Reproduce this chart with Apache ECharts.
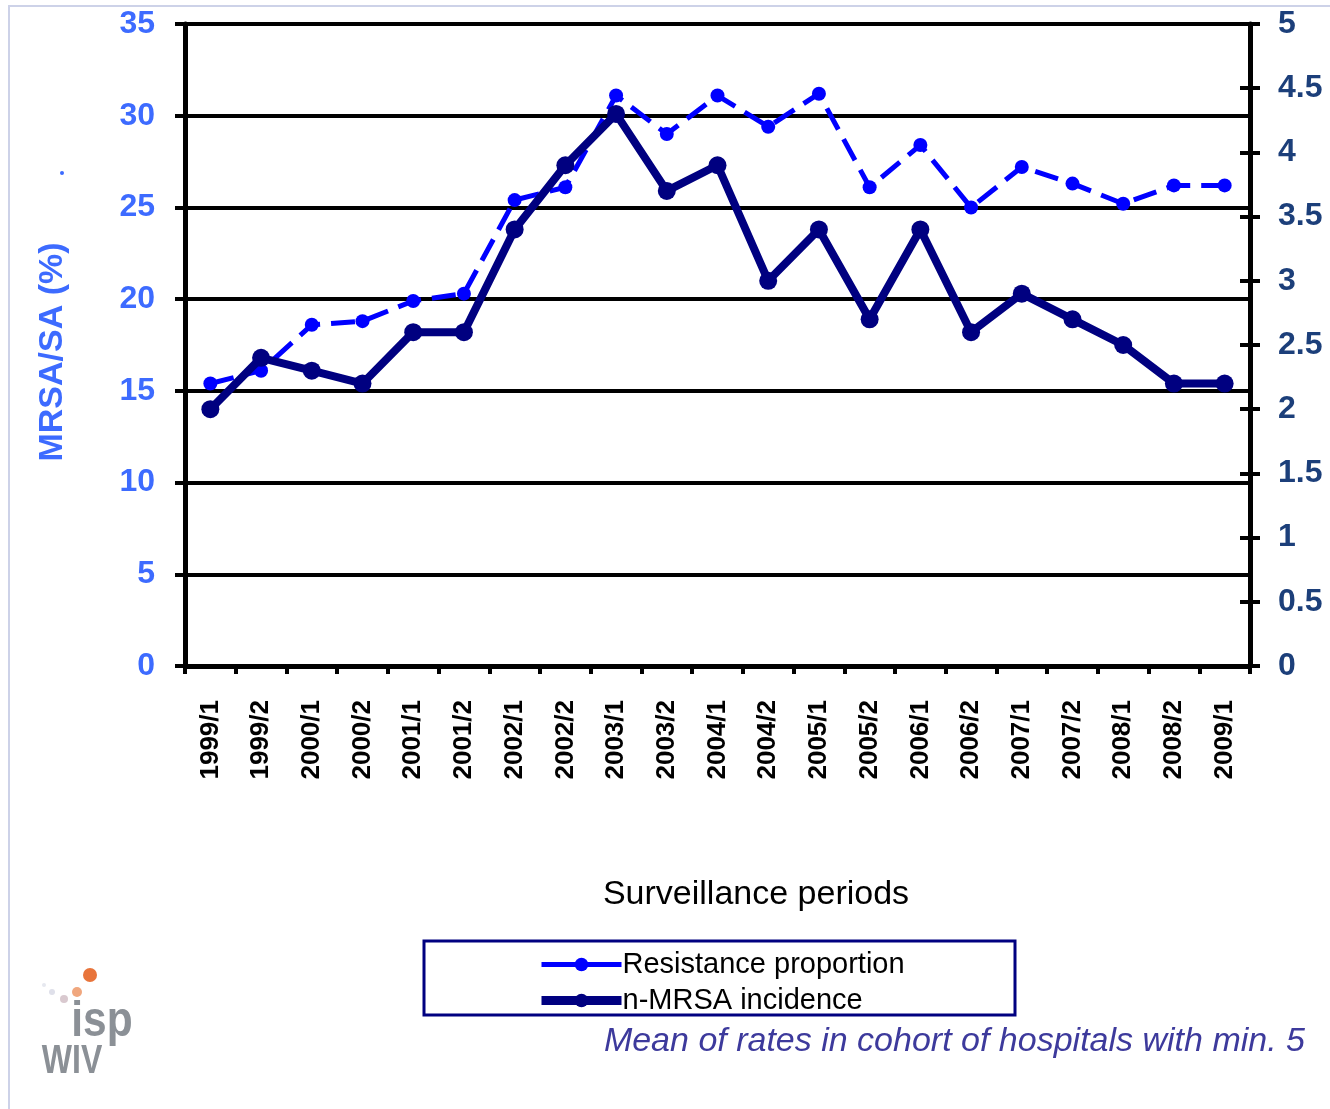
<!DOCTYPE html>
<html>
<head>
<meta charset="utf-8">
<title>MRSA</title>
<script src="https://cdn.jsdelivr.net/npm/echarts@6/dist/echarts.min.js"></script>
<style>
  html, body { margin: 0; padding: 0; background: #fff; }
  #chart { width: 1330px; height: 1109px; }
</style>
</head>
<body>
<div id="chart"></div>
<script>
const periods = [
  "1999/1", "1999/2", "2000/1", "2000/2", "2001/1", "2001/2", "2002/1",
  "2002/2", "2003/1", "2003/2", "2004/1", "2004/2", "2005/1", "2005/2",
  "2006/1", "2006/2", "2007/1", "2007/2", "2008/1", "2008/2", "2009/1",
];
// MRSA/SA (%) - left axis
const resistance = [
  15.4, 16.1, 18.6, 18.8, 19.9, 20.3, 25.4, 26.1, 31.1, 29.0, 31.1,
  29.4, 31.2, 26.1, 28.4, 25.0, 27.2, 26.3, 25.2, 26.2, 26.2,
];
// n-MRSA incidence - right axis
const incidence = [
  2.0, 2.4, 2.3, 2.2, 2.6, 2.6, 3.4, 3.9, 4.3, 3.7, 3.9,
  3.0, 3.4, 2.7, 3.4, 2.6, 2.9, 2.7, 2.5, 2.2, 2.2,
];
const seriesNames = ["Resistance proportion", "n-MRSA incidence"];

const FONT = "'Liberation Sans', Arial, sans-serif";
const chart = echarts.init(document.getElementById("chart"));

const option = {
  animation: false,
  backgroundColor: "#fff",
  textStyle: { fontFamily: FONT },
  grid: { left: 185, right: 80, top: 24, bottom: 443, containLabel: false },
  legend: {
    data: [
      { name: seriesNames[0], lineStyle: { width: 5, type: "solid" } },
      { name: seriesNames[1], lineStyle: { width: 9 } },
    ],
    orient: "vertical",
    left: 537,
    top: 950,
    padding: 0,
    itemGap: 7,
    itemWidth: 80,
    itemHeight: 17,
    textStyle: { fontSize: 29, color: "#000", fontFamily: FONT, padding: [0, 0, 0, -4] },
  },
  xAxis: {
    type: "category",
    data: periods,
    boundaryGap: true,
    axisLine: { lineStyle: { color: "#000", width: 5 } },
    axisTick: { show: true, interval: 0, length: 8, lineStyle: { color: "#000", width: 4 } },
    axisLabel: {
      interval: 0,
      rotate: 90,
      margin: 34,
      fontSize: 26,
      fontWeight: "bold",
      color: "#000",
      fontFamily: FONT,
    },
    splitLine: { show: false },
  },
  yAxis: [
    {
      type: "value",
      position: "left",
      min: 0,
      max: 35,
      interval: 5,
      axisLine: { show: true, lineStyle: { color: "#000", width: 5 } },
      axisTick: { show: true, length: 10, lineStyle: { color: "#000", width: 4 } },
      axisLabel: { fontSize: 32, fontWeight: "bold", color: "#3d6bff", margin: 30, fontFamily: FONT },
      splitLine: { show: true, lineStyle: { color: "#000", width: 4 } },
    },
    {
      type: "value",
      position: "right",
      min: 0,
      max: 5,
      interval: 0.5,
      axisLine: { show: true, lineStyle: { color: "#000", width: 5 } },
      axisTick: { show: true, length: 10, lineStyle: { color: "#000", width: 4 } },
      axisLabel: { fontSize: 32, fontWeight: "bold", color: "#1c3f7a", margin: 28, fontFamily: FONT },
      splitLine: { show: false },
    },
    {
      // inner half of the crossing ticks on the right axis
      type: "value",
      position: "right",
      min: 0,
      max: 5,
      interval: 0.5,
      axisLine: { show: false },
      axisTick: { show: true, inside: true, length: 10, lineStyle: { color: "#000", width: 4 } },
      axisLabel: { show: false },
      splitLine: { show: false },
    },
  ],
  series: [
    {
      name: seriesNames[0],
      type: "line",
      yAxisIndex: 0,
      data: resistance,
      symbol: "circle",
      symbolSize: 14,
      z: 3,
      lineStyle: { color: "#0000ff", width: 5, type: [24, 11] },
      itemStyle: { color: "#0000ff" },
    },
    {
      name: seriesNames[1],
      type: "line",
      yAxisIndex: 1,
      data: incidence,
      symbol: "circle",
      symbolSize: 18,
      z: 4,
      lineStyle: { color: "#000080", width: 8 },
      itemStyle: { color: "#000080" },
    },
  ],
  graphic: [
    {
      type: "rect",
      shape: { x: 9, y: 6, width: 1340, height: 1120 },
      style: { fill: null, stroke: "#cdd2e8", lineWidth: 2 },
      silent: true,
    },
    {
      type: "rect",
      shape: { x: 424, y: 941, width: 591, height: 74 },
      style: { fill: null, stroke: "#000080", lineWidth: 3 },
      silent: true,
    },
    {
      type: "circle",
      shape: { cx: 62, cy: 173, r: 2 },
      style: { fill: "#3d6bff" },
      silent: true,
    },
    {
      // left axis title
      type: "text",
      x: 53,
      y: 352,
      rotation: Math.PI / 2,
      style: {
        text: "MRSA/SA (%)",
        font: "bold 34px " + FONT,
        fill: "#3d6bff",
        align: "center",
        verticalAlign: "middle",
      },
    },
    {
      type: "text",
      x: 756,
      y: 895,
      style: {
        text: "Surveillance periods",
        font: "34px " + FONT,
        fill: "#000",
        align: "center",
        verticalAlign: "middle",
      },
    },
    {
      type: "text",
      x: 1305,
      y: 1042,
      style: {
        text: "Mean of rates in cohort of hospitals with min. 5",
        font: "italic 34px " + FONT,
        fill: "#3d3a9c",
        align: "right",
        verticalAlign: "middle",
      },
    },
    // isp / WIV logo
    { type: "circle", shape: { cx: 90, cy: 975, r: 7 }, style: { fill: "#e8743b" }, silent: true },
    { type: "circle", shape: { cx: 77, cy: 992, r: 5 }, style: { fill: "#f0a77e" }, silent: true },
    { type: "circle", shape: { cx: 64, cy: 999, r: 4 }, style: { fill: "#d9c9cf" }, silent: true },
    { type: "circle", shape: { cx: 52, cy: 992, r: 3 }, style: { fill: "#dfe0ea" }, silent: true },
    { type: "circle", shape: { cx: 44, cy: 985, r: 2 }, style: { fill: "#e6e8ef" }, silent: true },
    {
      type: "text",
      x: 102,
      y: 1022,
      scaleX: 0.85,
      style: { text: "isp", font: "bold 50px " + FONT, fill: "#8b9096", align: "center", verticalAlign: "middle" },
    },
    {
      type: "text",
      x: 72,
      y: 1062,
      scaleX: 0.8,
      style: { text: "WIV", font: "bold 40px " + FONT, fill: "#8b9096", align: "center", verticalAlign: "middle" },
    },
  ],
};
chart.setOption(option);

window.addEventListener("resize", () => {
  chart.resize();
});
</script>
</body>
</html>
